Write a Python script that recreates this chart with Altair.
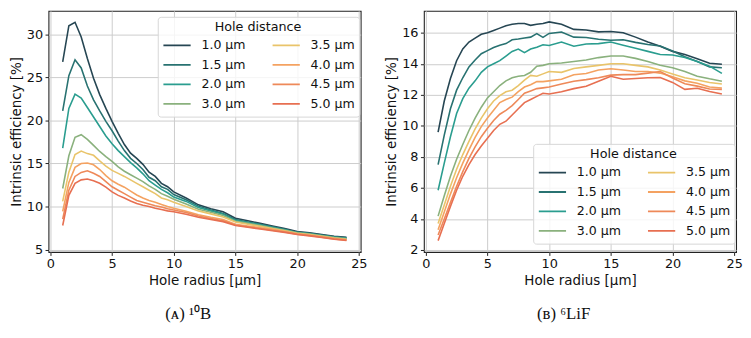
import altair as alt
import pandas as pd

# ---------------- data ----------------
x_vals = [1, 1.5, 2, 2.5, 3, 3.5, 4, 4.5, 5, 5.5, 6, 6.5, 7, 7.5, 8, 8.5, 9, 9.5, 10,
          11, 12, 13, 14, 15, 16, 17, 18, 19, 20, 21, 22, 23, 24]

hole_distances = ["1.0 μm", "1.5 μm", "2.0 μm", "3.0 μm", "3.5 μm", "4.0 μm", "4.5 μm", "5.0 μm"]
colors = ["#264653", "#287271", "#2a9d8f", "#8ab17d", "#e9c46a", "#f4a261", "#ee8959", "#e76f51"]

# (A) 10B
b10_1_0 = [26.8, 31.0, 31.4, 29.7, 27.2, 24.9, 23.0, 21.4, 19.9, 18.5, 17.2, 16.2, 15.6, 14.9, 14.0, 13.5, 12.7, 12.3, 11.7,
           11.0, 10.2, 9.75, 9.4, 8.65, 8.35, 8.05, 7.75, 7.45, 7.1, 6.95, 6.75, 6.55, 6.42]
b10_1_5 = [21.1, 25.2, 27.05, 26.1, 24.0, 22.4, 21.1, 19.9, 18.8, 17.6, 16.5, 15.6, 15.0, 14.3, 13.4, 13.0, 12.3, 12.0, 11.4,
           10.8, 10.05, 9.6, 9.2, 8.5, 8.2, 7.95, 7.65, 7.35, 7.0, 6.9, 6.7, 6.5, 6.38]
b10_2_0 = [16.8, 21.4, 23.05, 22.6, 21.5, 20.4, 19.3, 18.2, 17.3, 16.5, 15.8, 15.1, 14.5, 13.8, 13.0, 12.5, 12.0, 11.6, 11.1,
           10.6, 9.9, 9.5, 9.1, 8.4, 8.15, 7.9, 7.6, 7.3, 7.0, 6.85, 6.65, 6.45, 6.33]
b10_3_0 = [12.1, 15.9, 18.05, 18.35, 17.8, 17.1, 16.4, 15.8, 15.25, 14.6, 14.1, 13.7, 13.3, 12.9, 12.4, 12.0, 11.5, 11.2, 10.85,
           10.3, 9.7, 9.35, 8.95, 8.3, 8.05, 7.8, 7.5, 7.25, 6.95, 6.8, 6.6, 6.4, 6.25]
b10_3_5 = [10.6, 14.0, 16.05, 16.45, 16.15, 15.95, 15.3, 14.7, 14.2, 13.85, 13.5, 13.1, 12.7, 12.3, 11.9, 11.5, 11.0, 10.8, 10.5,
           10.0, 9.5, 9.15, 8.8, 8.2, 7.95, 7.7, 7.45, 7.2, 6.9, 6.75, 6.55, 6.35, 6.2]
b10_4_0 = [9.45, 12.8, 14.55, 15.0, 15.05, 14.85, 14.3, 13.6, 13.0, 12.6, 12.25, 11.8, 11.35, 11.0, 10.7, 10.5, 10.25, 10.0, 9.8,
           9.45, 9.05, 8.75, 8.5, 7.95, 7.75, 7.55, 7.35, 7.1, 6.85, 6.7, 6.5, 6.3, 6.15]
b10_4_5 = [8.55, 11.9, 13.5, 13.97, 14.15, 13.86, 13.5, 12.9, 12.3, 11.9, 11.5, 11.1, 10.7, 10.5, 10.3, 10.1, 9.95, 9.75, 9.6,
           9.3, 8.9, 8.6, 8.35, 7.85, 7.65, 7.45, 7.25, 7.05, 6.8, 6.65, 6.45, 6.25, 6.1]
b10_5_0 = [7.8, 11.3, 12.7, 13.1, 13.2, 13.0, 12.7, 12.25, 11.7, 11.3, 11.0, 10.65, 10.35, 10.15, 10.0, 9.8, 9.65, 9.5, 9.4,
           9.1, 8.75, 8.5, 8.25, 7.8, 7.6, 7.4, 7.2, 7.0, 6.75, 6.6, 6.4, 6.2, 6.05]

# (B) 6LiF
lif_1_0 = [9.6, 11.6, 13.05, 14.2, 14.96, 15.4, 15.65, 15.9, 16.0, 16.15, 16.3, 16.45, 16.55, 16.6, 16.6, 16.48, 16.55, 16.6, 16.7,
           16.55, 16.22, 16.18, 16.06, 16.08, 16.0, 15.72, 15.4, 15.13, 14.8, 14.6, 14.32, 14.03, 13.97]
lif_1_5 = [7.5, 9.4, 11.1, 12.3, 13.1, 13.8, 14.25, 14.65, 14.85, 15.05, 15.2, 15.3, 15.55, 15.6, 15.66, 15.72, 15.95, 15.7, 15.96,
           16.05, 15.72, 15.7, 15.58, 15.52, 15.55, 15.38, 15.25, 15.15, 14.82, 14.45, 14.15, 13.8, 13.75]
lif_2_0 = [5.85, 7.6, 9.3, 10.8, 11.75, 12.43, 12.9, 13.45, 13.8, 14.0, 14.2, 14.5, 14.8, 14.95, 14.72, 14.95, 15.07, 15.23, 15.18,
           15.4, 15.13, 15.28, 15.3, 15.4, 15.2, 15.0, 14.8, 14.6, 14.57, 14.4, 14.15, 13.85, 13.38]
lif_3_0 = [4.18, 5.5, 6.75, 7.85, 8.8, 9.7, 10.5, 11.2, 11.8, 12.2, 12.6, 12.9, 13.1, 13.2, 13.25, 13.45, 13.85, 13.9, 14.0,
           14.05, 14.15, 14.25, 14.4, 14.5, 14.5, 14.35, 14.15, 13.9, 13.75, 13.5, 13.2, 13.03, 12.88]
lif_3_5 = [3.7, 4.9, 6.1, 7.2, 8.15, 9.0, 9.8, 10.5, 11.1, 11.6, 11.95, 12.2, 12.3, 12.6, 12.95, 13.25, 13.2, 13.35, 13.5,
           13.45, 13.7, 13.8, 13.9, 14.0, 14.0, 13.9, 13.8, 13.6, 13.35, 13.1, 12.95, 12.8, 12.7]
lif_4_0 = [3.3, 4.45, 5.6, 6.65, 7.6, 8.45, 9.25, 9.95, 10.5, 11.0, 11.5, 11.7, 11.85, 12.2, 12.5, 12.65, 12.85, 12.85, 12.9,
           13.0, 13.3, 13.38, 13.6, 13.68, 13.6, 13.5, 13.5, 13.4, 13.17, 12.9, 12.75, 12.5, 12.44]
lif_4_5 = [2.96, 4.0, 5.05, 6.1, 7.05, 7.9, 8.65, 9.3, 9.85, 10.35, 10.75, 11.0, 11.3, 11.7, 12.1, 12.25, 12.4, 12.45, 12.5,
           12.7, 12.88, 12.98, 13.1, 13.27, 13.3, 13.3, 13.4, 13.5, 13.08, 12.72, 12.56, 12.37, 12.35]
lif_5_0 = [2.6, 3.7, 4.8, 5.85, 6.75, 7.5, 8.15, 8.7, 9.2, 9.7, 10.1, 10.3, 10.7, 11.1, 11.5, 11.7, 11.9, 12.1, 12.05,
           12.2, 12.4, 12.55, 12.88, 13.2, 13.0, 13.05, 13.1, 13.12, 12.8, 12.35, 12.42, 12.22, 12.05]

x_ticks = [0, 5, 10, 15, 20, 25]
y_ticks_b10 = [5, 10, 15, 20, 25, 30]
y_ticks_lif = [2, 4, 6, 8, 10, 12, 14, 16]

b10_series = [b10_1_0, b10_1_5, b10_2_0, b10_3_0, b10_3_5, b10_4_0, b10_4_5, b10_5_0]
lif_series = [lif_1_0, lif_1_5, lif_2_0, lif_3_0, lif_3_5, lif_4_0, lif_4_5, lif_5_0]


def make_df(series):
    rows = []
    for k, (name, vals) in enumerate(zip(hole_distances, series)):
        for x, y in zip(x_vals, vals):
            rows.append({"radius": x, "eff": y, "dist": name, "k": k})
    return pd.DataFrame(rows)


FONT = "DejaVu Sans"


def panel(df, ydomain, yticks, lx, ly, caption):
    return alt.Chart(df).mark_line(strokeWidth=1.6, clip=True).encode(
        x=alt.X("radius:Q",
                scale=alt.Scale(domain=[-0.15, 25.15], nice=False, zero=False),
                axis=alt.Axis(values=x_ticks, title="Hole radius [μm]", format="d")),
        y=alt.Y("eff:Q",
                scale=alt.Scale(domain=ydomain, nice=False, zero=False),
                axis=alt.Axis(values=yticks, title="Intrinsic efficiency [%]", format="d")),
        color=alt.Color("dist:N",
                        scale=alt.Scale(domain=hole_distances, range=colors),
                        legend=alt.Legend(title="Hole distance", orient="none",
                                          legendX=lx, legendY=ly, columns=2,
                                          symbolType="stroke", symbolSize=760,
                                          symbolStrokeWidth=1.8, clipHeight=16,
                                          labelFontSize=12.7, titleFontSize=12.9,
                                          titleFontWeight="normal", titleAnchor="middle",
                                          labelFont=FONT, titleFont=FONT,
                                          labelColor="#111", titleColor="#111",
                                          labelOffset=9.7, columnPadding=25.5,
                                          rowPadding=3.7, titlePadding=3.6,
                                          padding=4.5,
                                          fillColor="rgba(255,255,255,0.8)",
                                          strokeColor="#d6d6d6", cornerRadius=3)),
        order=alt.Order("k:Q"),
    ).properties(
        width=316, height=244,
        title=alt.TitleParams(caption, orient="bottom", anchor="middle", frame="bounds",
                              font="Liberation Serif", fontSize=17, fontWeight="normal",
                              color="#111", offset=19),
    )


left = panel(make_df(b10_series), [4.73, 32.72], y_ticks_b10, 110.6, 6.0, "(ᴀ) ¹⁰B")
right = panel(make_df(lif_series), [1.87, 17.41], y_ticks_lif, 110.6, 134.6, "(ʙ) ⁶LiF")

chart = alt.hconcat(left, right, spacing=64, bounds="flush").resolve_scale(
    color="independent"
).properties(
    padding={"left": 0, "top": 0, "right": 0, "bottom": 0}
).configure_view(
    stroke="#222", strokeWidth=1.1
).configure_axis(
    labelFont=FONT, titleFont=FONT, labelFontSize=13, titleFontSize=13.6,
    titleFontWeight="normal", labelColor="#111", titleColor="#111",
    tickColor="#222", tickSize=3.5, labelPadding=2.5, titlePadding=3,
    domain=False, gridColor="#cccccc", gridWidth=1,
).configure_axisY(titlePadding=3)

chart.save("out.html", embed_options={"renderer": "svg", "actions": False})
